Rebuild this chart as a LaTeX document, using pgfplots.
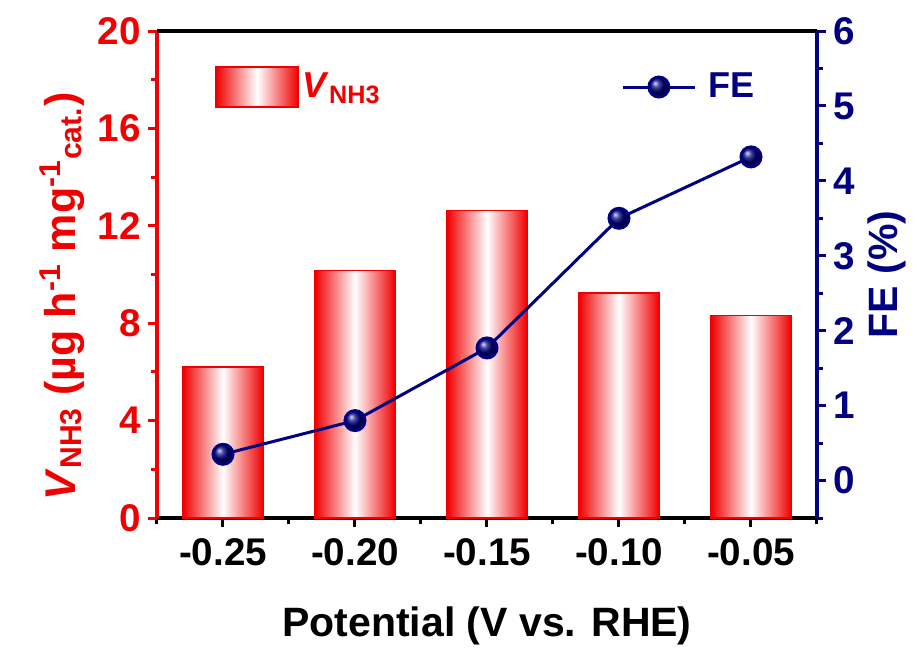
\documentclass[border=0pt]{standalone}
\usepackage{pgfplots}
\pgfplotsset{compat=1.18}
\usepackage{fontspec}
\setmainfont{Liberation Sans}
\definecolor{vred}{RGB}{240,0,0}
\definecolor{fenavy}{RGB}{0,0,128}

\begin{document}
\begin{tikzpicture}[font=\bfseries]
\pgfplotsset{
  common/.style={
    scale only axis, width=330pt, height=243.5pt,
    xmin=-0.275, xmax=-0.025,
    /pgf/number format/assume math mode=true,
    tick align=outside,
    major tick length=4.5pt, minor tick length=3pt,
    every tick/.append style={line width=1.5pt},
    every minor tick/.append style={line width=1.5pt},
    axis line style={-, line width=1.8pt},
    tick label style={font=\fontsize{19.3}{21}\selectfont\bfseries},
    label style={font=\fontsize{20.5}{24}\selectfont\bfseries},
  },
  % each bar is its own path so that it gets its own red-white-red shading
  vbar/.style={ybar, bar width=40pt, draw=vred, line width=0.6pt,
    left color=vred, right color=vred, middle color=white},
}
% rate of NH3 production (bars, left axis)
\begin{axis}[common, name=ax,
  axis x line*=bottom, axis y line*=left,
  ymin=0, ymax=20, ytick={0,4,...,20}, minor ytick={2,6,...,18},
  xtick={-0.25,-0.20,-0.15,-0.10,-0.05},
  xticklabels={-0.25,-0.20,-0.15,-0.10,-0.05},
  minor xtick={-0.275,-0.225,-0.175,-0.125,-0.075,-0.025},
  x axis line style={black}, x tick style={black},
  xticklabel style={yshift=-2pt},
  y axis line style={vred}, y tick style={vred},
  yticklabel style={vred},
  xlabel={Potential (V vs. RHE)},
  xlabel style={yshift=-14pt},
  ylabel={\textit{V}\textsubscript{NH3} (µg h\textsuperscript{-1} mg\textsuperscript{-1}\textsubscript{cat.})},
  ylabel style={vred, at={(ticklabel cs:0.455)},
    font=\fontsize{21.5}{24}\selectfont\bfseries},
  legend image code/.code={\draw[#1] (0pt,-10pt) rectangle (41pt,10pt);},
  legend style={at={(0.088,0.885)}, anchor=west, draw=none, fill=none,
    inner sep=0pt, font=\fontsize{18}{22}\selectfont\bfseries\color{vred}},
]
\addplot[vbar] coordinates {(-0.25,6.2)};
\addlegendentry{\textit{V}\textsubscript{NH3}}
\addplot[vbar, forget plot] coordinates {(-0.20,10.18)};
\addplot[vbar, forget plot] coordinates {(-0.15,12.62)};
\addplot[vbar, forget plot] coordinates {(-0.10,9.24)};
\addplot[vbar, forget plot] coordinates {(-0.05,8.3)};
\end{axis}
% Faradaic efficiency (line, right axis)
\begin{axis}[common,
  axis x line*=top, axis y line*=right,
  xtick=\empty,
  ymin=-0.5, ymax=6, ytick={0,...,6}, minor ytick={-0.5,0.5,...,5.5},
  x axis line style={black},
  y axis line style={fenavy}, y tick style={fenavy},
  yticklabel style={fenavy},
  ylabel={FE (\%)}, ylabel style={fenavy},
  legend image code/.code={\draw[#1, mark repeat=2, mark phase=2]
    plot coordinates {(0pt,0pt) (18pt,0pt) (36pt,0pt)};},
  legend style={at={(0.703,0.885)}, anchor=west, draw=none, fill=none,
    inner sep=0pt, font=\fontsize{18}{22}\selectfont\bfseries\color{fenavy},
    nodes={inner xsep=6pt}},
]
\addplot[fenavy, line width=1.5pt, mark=ball, mark size=5pt,
  mark options={ball color=fenavy}]
  coordinates {(-0.25,0.35) (-0.20,0.80) (-0.15,1.77) (-0.10,3.50) (-0.05,4.32)};
\addlegendentry{FE}
\end{axis}
\pgfresetboundingbox
\path ([xshift=-78.5pt,yshift=-66pt]ax.south west) rectangle ([xshift=50pt,yshift=15.5pt]ax.north east);
\end{tikzpicture}
\end{document}
